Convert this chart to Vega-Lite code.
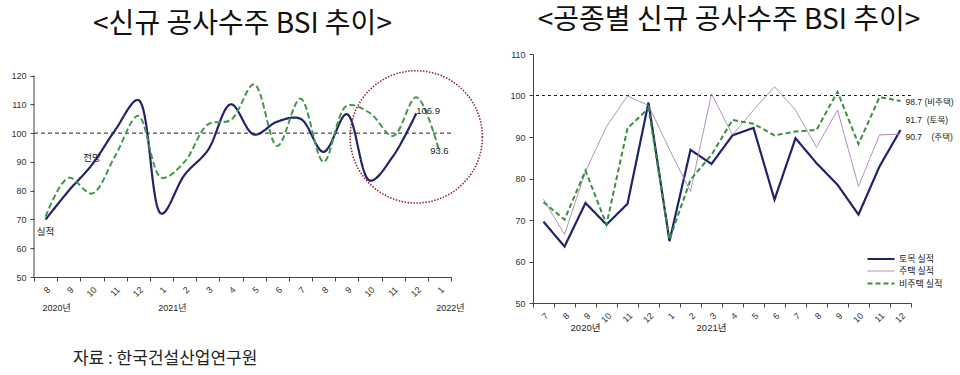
{
  "$schema": "https://vega.github.io/schema/vega-lite/v6.json",
  "background": "white",
  "padding": {"left": 10, "top": 7, "right": 0, "bottom": 0},
  "spacing": 23,
  "resolve": {"scale": {"color": "independent", "strokeDash": "independent", "strokeWidth": "independent"}, "legend": {"color": "independent", "strokeDash": "independent", "strokeWidth": "independent"}},
  "config": {
    "view": {"stroke": null},
    "font": "Liberation Sans, Noto Sans CJK KR",
    "axis": {"grid": false, "domainColor": "#444", "tickColor": "#444", "labelColor": "#333", "labelFontSize": 9, "labelFont": "Liberation Sans, Noto Sans CJK KR", "tickSize": 4, "title": null}
  },
  "title": {"text": "자료 : 한국건설산업연구원", "orient": "bottom", "anchor": "start", "dx": 62, "fontSize": 17, "fontWeight": "normal", "font": "Noto Sans CJK KR", "color": "#222", "offset": 18},
  "datasets": {
    "left": [
      {"m": "2020.8", "s": "실적", "v": 70}, {"m": "2020.9", "s": "실적", "v": 80}, {"m": "2020.10", "s": "실적", "v": 89}, {"m": "2020.11", "s": "실적", "v": 101}, {"m": "2020.12", "s": "실적", "v": 111.5},
      {"m": "2021.1", "s": "실적", "v": 72}, {"m": "2021.2", "s": "실적", "v": 85.5}, {"m": "2021.3", "s": "실적", "v": 94}, {"m": "2021.4", "s": "실적", "v": 110}, {"m": "2021.5", "s": "실적", "v": 99.5},
      {"m": "2021.6", "s": "실적", "v": 104}, {"m": "2021.7", "s": "실적", "v": 105}, {"m": "2021.8", "s": "실적", "v": 93.5}, {"m": "2021.9", "s": "실적", "v": 106.6}, {"m": "2021.10", "s": "실적", "v": 83.5},
      {"m": "2021.11", "s": "실적", "v": 92}, {"m": "2021.12", "s": "실적", "v": 106.9},
      {"m": "2020.8", "s": "전망", "v": 71}, {"m": "2020.9", "s": "전망", "v": 84.5}, {"m": "2020.10", "s": "전망", "v": 79}, {"m": "2020.11", "s": "전망", "v": 92}, {"m": "2020.12", "s": "전망", "v": 106},
      {"m": "2021.1", "s": "전망", "v": 84.5}, {"m": "2021.2", "s": "전망", "v": 90}, {"m": "2021.3", "s": "전망", "v": 103}, {"m": "2021.4", "s": "전망", "v": 104.6}, {"m": "2021.5", "s": "전망", "v": 117},
      {"m": "2021.6", "s": "전망", "v": 95.5}, {"m": "2021.7", "s": "전망", "v": 112}, {"m": "2021.8", "s": "전망", "v": 90}, {"m": "2021.9", "s": "전망", "v": 109.5}, {"m": "2021.10", "s": "전망", "v": 107},
      {"m": "2021.11", "s": "전망", "v": 99}, {"m": "2021.12", "s": "전망", "v": 112.5}, {"m": "2022.1", "s": "전망", "v": 93.6}
    ],
    "right": [
      {"m": "2020.7", "s": "토목 실적", "v": 69.6}, {"m": "2020.8", "s": "토목 실적", "v": 63.6}, {"m": "2020.9", "s": "토목 실적", "v": 74.1}, {"m": "2020.10", "s": "토목 실적", "v": 68.9}, {"m": "2020.11", "s": "토목 실적", "v": 73.9}, {"m": "2020.12", "s": "토목 실적", "v": 98.3},
      {"m": "2021.1", "s": "토목 실적", "v": 64.9}, {"m": "2021.2", "s": "토목 실적", "v": 86.9}, {"m": "2021.3", "s": "토목 실적", "v": 83.5}, {"m": "2021.4", "s": "토목 실적", "v": 90.4}, {"m": "2021.5", "s": "토목 실적", "v": 92.2}, {"m": "2021.6", "s": "토목 실적", "v": 74.9},
      {"m": "2021.7", "s": "토목 실적", "v": 89.7}, {"m": "2021.8", "s": "토목 실적", "v": 83.7}, {"m": "2021.9", "s": "토목 실적", "v": 78.5}, {"m": "2021.10", "s": "토목 실적", "v": 71.3}, {"m": "2021.11", "s": "토목 실적", "v": 82.9}, {"m": "2021.12", "s": "토목 실적", "v": 91.7},
      {"m": "2020.7", "s": "주택 실적", "v": 75.0}, {"m": "2020.8", "s": "주택 실적", "v": 66.5}, {"m": "2020.9", "s": "주택 실적", "v": 81.7}, {"m": "2020.10", "s": "주택 실적", "v": 92.5}, {"m": "2020.11", "s": "주택 실적", "v": 99.9}, {"m": "2020.12", "s": "주택 실적", "v": 97.6},
      {"m": "2021.1", "s": "주택 실적", "v": 87}, {"m": "2021.2", "s": "주택 실적", "v": 76.9}, {"m": "2021.3", "s": "주택 실적", "v": 100.4}, {"m": "2021.4", "s": "주택 실적", "v": 90.5}, {"m": "2021.5", "s": "주택 실적", "v": 96.5}, {"m": "2021.6", "s": "주택 실적", "v": 102.1},
      {"m": "2021.7", "s": "주택 실적", "v": 96.5}, {"m": "2021.8", "s": "주택 실적", "v": 87.5}, {"m": "2021.9", "s": "주택 실적", "v": 96.5}, {"m": "2021.10", "s": "주택 실적", "v": 78.1}, {"m": "2021.11", "s": "주택 실적", "v": 90.5}, {"m": "2021.12", "s": "주택 실적", "v": 90.7},
      {"m": "2020.7", "s": "비주택 실적", "v": 74.3}, {"m": "2020.8", "s": "비주택 실적", "v": 70.1}, {"m": "2020.9", "s": "비주택 실적", "v": 81.9}, {"m": "2020.10", "s": "비주택 실적", "v": 68.9}, {"m": "2020.11", "s": "비주택 실적", "v": 92.1}, {"m": "2020.12", "s": "비주택 실적", "v": 96.9},
      {"m": "2021.1", "s": "비주택 실적", "v": 65.3}, {"m": "2021.2", "s": "비주택 실적", "v": 79.7}, {"m": "2021.3", "s": "비주택 실적", "v": 85.7}, {"m": "2021.4", "s": "비주택 실적", "v": 94.1}, {"m": "2021.5", "s": "비주택 실적", "v": 93.2}, {"m": "2021.6", "s": "비주택 실적", "v": 90.4},
      {"m": "2021.7", "s": "비주택 실적", "v": 91.3}, {"m": "2021.8", "s": "비주택 실적", "v": 91.7}, {"m": "2021.9", "s": "비주택 실적", "v": 100.9}, {"m": "2021.10", "s": "비주택 실적", "v": 88.3}, {"m": "2021.11", "s": "비주택 실적", "v": 99.6}, {"m": "2021.12", "s": "비주택 실적", "v": 98.7}
    ]
  },
  "hconcat": [
    {
      "width": 417,
      "height": 223,
      "title": {"text": "<신규 공사수주 BSI 추이>", "fontSize": 28, "font": "Noto Sans CJK KR", "fontWeight": "normal", "color": "#111", "offset": 15},
      "encoding": {
        "x": {"field": "m", "type": "ordinal",
          "scale": {"type": "band", "paddingInner": 0, "paddingOuter": 0, "domain": ["2020.8","2020.9","2020.10","2020.11","2020.12","2021.1","2021.2","2021.3","2021.4","2021.5","2021.6","2021.7","2021.8","2021.9","2021.10","2021.11","2021.12","2022.1"]},
          "axis": {"labelAngle": -45, "labelExpr": "split(datum.label, '.')[1]", "tickBand": "extent", "labelPadding": 4}},
        "y": {"field": "v", "type": "quantitative", "scale": {"domain": [50, 127.5], "nice": false, "zero": false},
          "axis": {"values": [50, 60, 70, 80, 90, 100, 110, 120], "labelPadding": 4, "domain": false}}
      },
      "layer": [
        {"data": {"values": [{"m": "2020.8", "v": 50, "v2": 120}]}, "mark": {"type": "rule", "stroke": "#444", "strokeWidth": 1},
         "encoding": {"x": {"field": "m", "type": "ordinal", "bandPosition": 0}, "y": {"field": "v", "type": "quantitative"}, "y2": {"field": "v2"}}},
        {"data": {"values": [{"v": 100}]}, "mark": {"type": "rule", "stroke": "#222", "strokeDash": [4, 3], "strokeWidth": 1},
         "encoding": {"x": null, "y": {"field": "v", "type": "quantitative"}}},
        {"data": {"name": "left"}, "mark": {"type": "line", "interpolate": "catmull-rom"},
         "encoding": {
           "color": {"field": "s", "type": "nominal", "scale": {"domain": ["실적", "전망"], "range": ["#22226c", "#43974a"]}, "legend": null},
           "strokeDash": {"field": "s", "type": "nominal", "scale": {"domain": ["실적", "전망"], "range": [[1, 0], [6, 3]]}, "legend": null},
           "strokeWidth": {"field": "s", "type": "nominal", "scale": {"type": "ordinal", "domain": ["실적", "전망"], "range": [2.2, 2]}, "legend": null}
         }},
        {"data": {"values": [{"m": "2020.8", "v": 65.6, "t": "실적"}, {"m": "2020.10", "v": 91.4, "t": "전망"}, {"m": "2022.1", "v": 93.9, "t": "93.6"}]},
         "mark": {"type": "text", "fontSize": 9.5, "color": "#222", "font": "Liberation Sans, Noto Sans CJK KR"},
         "encoding": {"text": {"field": "t"}}},
        {"data": {"values": [{"m": "2021.12", "v": 107.8, "t": "106.9"}]},
         "mark": {"type": "text", "fontSize": 9.5, "color": "#222", "align": "left", "font": "Liberation Sans"},
         "encoding": {"text": {"field": "t"}}},
        {"data": {"values": [{"m": "2020.8", "v": 50, "t": "2020년"}, {"m": "2021.1", "v": 50, "t": "2021년"}, {"m": "2022.1", "v": 50, "t": "2022년"}]},
         "mark": {"type": "text", "fontSize": 9, "color": "#222", "dx": 11, "dy": 31, "font": "Liberation Sans, Noto Sans CJK KR"},
         "encoding": {"text": {"field": "t"}}},
        {"data": {"values": [{"m": "2021.12", "v": 98.7}]},
         "mark": {"type": "point", "shape": "circle", "size": 17500, "filled": false, "stroke": "#8b2a3a", "strokeWidth": 1.6, "strokeDash": [1.5, 1.5], "opacity": 1}}
      ]
    },
    {
      "width": 378,
      "height": 249,
      "title": {"text": "<공종별 신규 공사수주 BSI 추이>", "fontSize": 28, "font": "Noto Sans CJK KR", "fontWeight": "normal", "color": "#111", "offset": 15, "dx": 7},
      "encoding": {
        "x": {"field": "m", "type": "ordinal",
          "scale": {"type": "band", "paddingInner": 0, "paddingOuter": 0, "domain": ["2020.7","2020.8","2020.9","2020.10","2020.11","2020.12","2021.1","2021.2","2021.3","2021.4","2021.5","2021.6","2021.7","2021.8","2021.9","2021.10","2021.11","2021.12"]},
          "axis": {"labelAngle": -45, "labelExpr": "split(datum.label, '.')[1]", "tickBand": "extent", "labelPadding": 4}},
        "y": {"field": "v", "type": "quantitative", "scale": {"domain": [50, 110], "nice": false, "zero": false},
          "axis": {"values": [50, 60, 70, 80, 90, 100, 110], "labelPadding": 4}}
      },
      "layer": [
        {"data": {"values": [{"v": 100}]}, "mark": {"type": "rule", "stroke": "#222", "strokeDash": [3, 3], "strokeWidth": 1},
         "encoding": {"x": null, "y": {"field": "v", "type": "quantitative"}}},
        {"data": {"name": "right"}, "mark": {"type": "line"},
         "encoding": {
           "color": {"field": "s", "type": "nominal", "scale": {"domain": ["토목 실적", "주택 실적", "비주택 실적"], "range": ["#22226c", "#a584b0", "#3a8f3e"]},
             "legend": {"orient": "none", "legendX": 342, "legendY": 199, "title": null, "symbolType": "M-3,0H3", "symbolSize": 81, "labelFontSize": 9, "labelFont": "Noto Sans CJK KR", "labelColor": "#222", "rowPadding": 2, "labelOffset": 12}},
           "strokeDash": {"field": "s", "type": "nominal", "scale": {"domain": ["토목 실적", "주택 실적", "비주택 실적"], "range": [[1, 0], [1, 0], [5, 3]]}},
           "strokeWidth": {"field": "s", "type": "nominal", "scale": {"type": "ordinal", "domain": ["토목 실적", "주택 실적", "비주택 실적"], "range": [2.2, 1, 2]}}
         }},
        {"data": {"values": [{"m": "2021.12", "v": 98.4, "t": "98.7 (비주택)"}, {"m": "2021.12", "v": 94.1, "t": "91.7\u00a0\u00a0(토목)"}, {"m": "2021.12", "v": 90.0, "t": "90.7\u00a0\u00a0\u00a0\u00a0(주택)"}]},
         "mark": {"type": "text", "fontSize": 8.5, "color": "#222", "align": "left", "dx": 5, "font": "Liberation Sans, Noto Sans CJK KR"},
         "encoding": {"text": {"field": "t"}}},
        {"data": {"values": [{"m": "2020.9", "v": 50, "t": "2020년"}, {"m": "2021.3", "v": 50, "t": "2021년"}]},
         "mark": {"type": "text", "fontSize": 9.5, "color": "#222", "dy": 25, "font": "Liberation Sans, Noto Sans CJK KR"},
         "encoding": {"text": {"field": "t"}}}
      ]
    }
  ]
}
